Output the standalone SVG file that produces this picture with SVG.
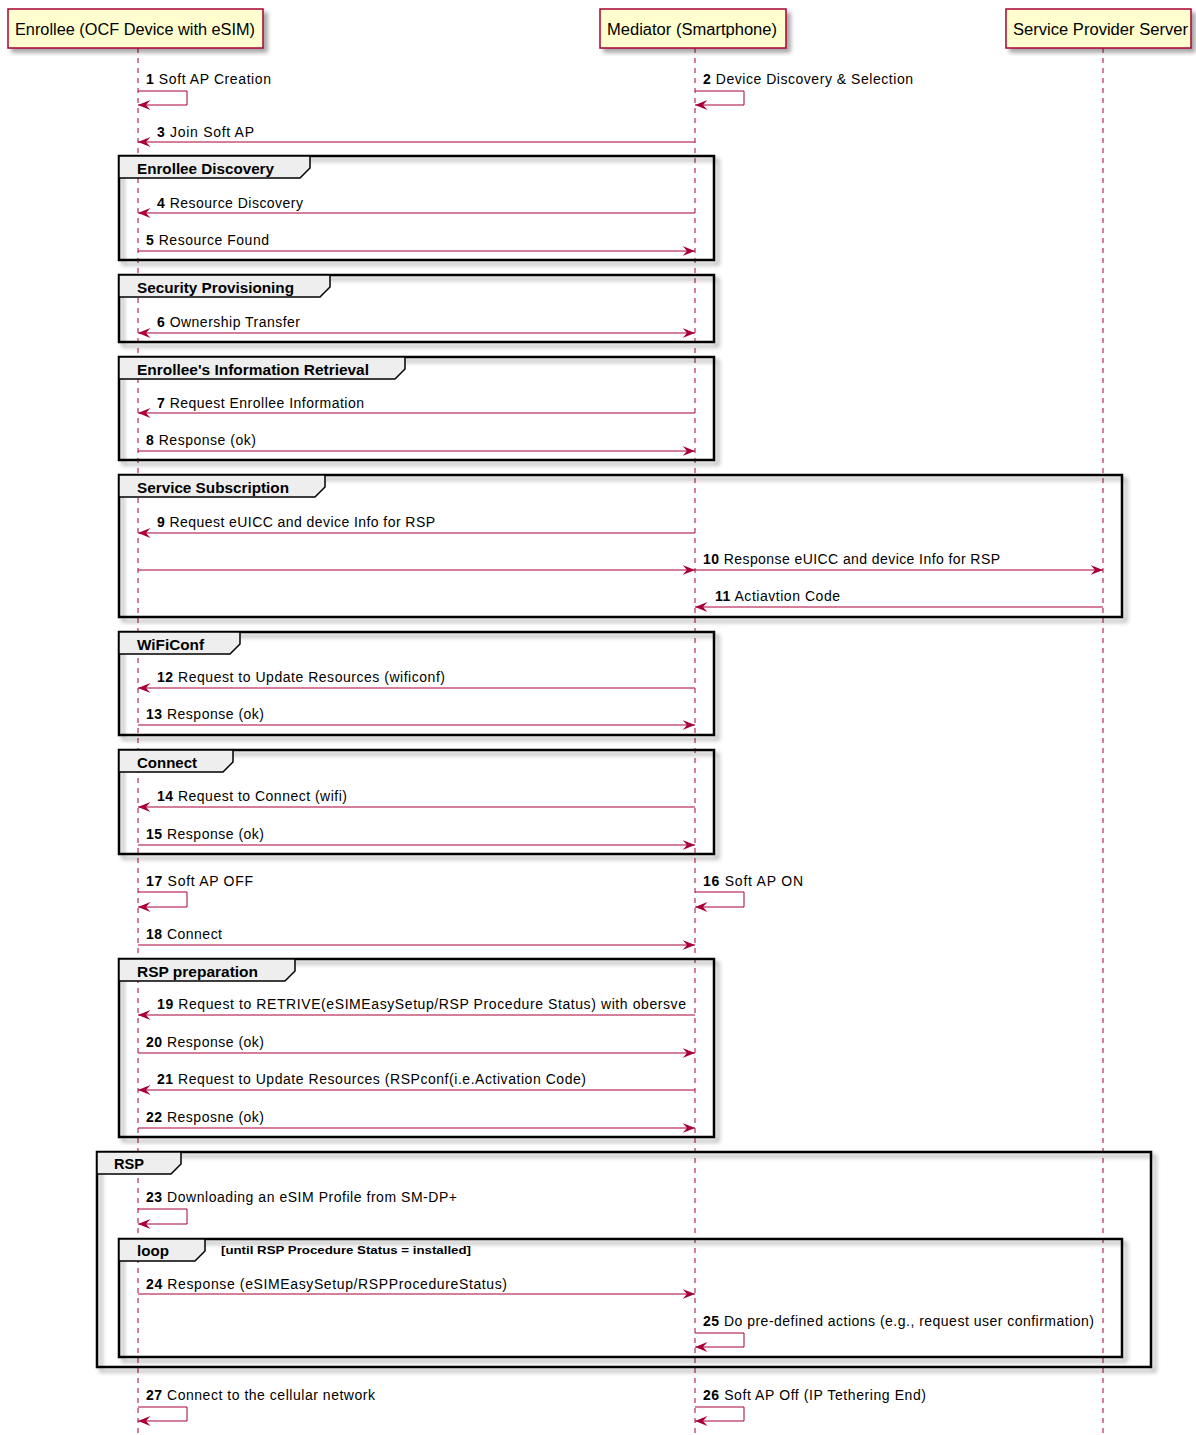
<svg xmlns="http://www.w3.org/2000/svg" width="1196" height="1435" viewBox="0 0 1196 1435">
<style>
.bg{fill:#FFFFFF}
.part{fill:#FEFECE;stroke:#A80036;stroke-width:1.5}
.ptxt{font-family:"Liberation Sans",Arial,sans-serif;font-size:16px;fill:#000}
.life{stroke:#A80036;stroke-width:1;stroke-dasharray:5,5;fill:none}
.msg{stroke:#A80036;stroke-width:1;fill:none}
.mtxt{font-family:"Liberation Sans",Arial,sans-serif;font-size:14px;fill:#000}
.num{font-weight:bold}
.frame{fill:none;stroke:#000;stroke-width:2.5}
.tab{fill:#EEEEEE;stroke:#000;stroke-width:1.5}
.gtxt{font-family:"Liberation Sans",Arial,sans-serif;font-size:14px;font-weight:bold;fill:#000}
.guard{font-family:"Liberation Sans",Arial,sans-serif;font-size:11px;font-weight:bold;fill:#000}
</style>
<defs>
<filter id="sh" x="-5%" y="-5%" width="115%" height="125%">
<feDropShadow dx="4" dy="4" stdDeviation="2" flood-color="#000" flood-opacity="0.35"/>
</filter>
<marker id="ah" viewBox="0 0 13 11" markerUnits="userSpaceOnUse" markerWidth="13" markerHeight="11" refX="12.5" refY="5.5" orient="auto-start-reverse">
<path d="M0,0.5 L12.5,5.5 L0,10.5 L4.5,5.5 Z" fill="#A80036"/>
</marker>
</defs>
<rect class="bg" x="0" y="0" width="1196" height="1435"/>

<g id="lifelines">
<line class="life" x1="138" y1="48" x2="138" y2="1435"/>
<line class="life" x1="695" y1="48" x2="695" y2="1435"/>
<line class="life" x1="1103" y1="48" x2="1103" y2="1435"/>
</g>

<g id="participant-enrollee">
<rect class="part" x="8" y="9" width="255" height="39" filter="url(#sh)"/>
<text class="ptxt" x="15" y="35" textLength="240" lengthAdjust="spacingAndGlyphs">Enrollee (OCF Device with eSIM)</text>
</g>
<g id="participant-mediator">
<rect class="part" x="600" y="9" width="186" height="39" filter="url(#sh)"/>
<text class="ptxt" x="607" y="35" textLength="170" lengthAdjust="spacingAndGlyphs">Mediator (Smartphone)</text>
</g>
<g id="participant-sps">
<rect class="part" x="1006" y="9" width="185" height="39" filter="url(#sh)"/>
<text class="ptxt" x="1013" y="35" textLength="175" lengthAdjust="spacingAndGlyphs">Service Provider Server</text>
</g>

<g id="group-enrollee-discovery">
<rect class="frame" x="119" y="156" width="595" height="104" filter="url(#sh)"/>
<path class="tab" d="M119,156 H310 V168 L300,178 H119 Z"/>
<text class="gtxt" x="137" y="174" textLength="137" lengthAdjust="spacingAndGlyphs">Enrollee Discovery</text>
</g>
<g id="group-security-provisioning">
<rect class="frame" x="119" y="275" width="595" height="67" filter="url(#sh)"/>
<path class="tab" d="M119,275 H330 V287 L320,297 H119 Z"/>
<text class="gtxt" x="137" y="293" textLength="157" lengthAdjust="spacingAndGlyphs">Security Provisioning</text>
</g>
<g id="group-info-retrieval">
<rect class="frame" x="119" y="357" width="595" height="103" filter="url(#sh)"/>
<path class="tab" d="M119,357 H405 V369 L395,379 H119 Z"/>
<text class="gtxt" x="137" y="375" textLength="232" lengthAdjust="spacingAndGlyphs">Enrollee's Information Retrieval</text>
</g>
<g id="group-service-subscription">
<rect class="frame" x="119" y="475" width="1003" height="142" filter="url(#sh)"/>
<path class="tab" d="M119,475 H325 V487 L315,497 H119 Z"/>
<text class="gtxt" x="137" y="493" textLength="152" lengthAdjust="spacingAndGlyphs">Service Subscription</text>
</g>
<g id="group-wificonf">
<rect class="frame" x="119" y="632" width="595" height="103" filter="url(#sh)"/>
<path class="tab" d="M119,632 H240 V644 L230,654 H119 Z"/>
<text class="gtxt" x="137" y="650" textLength="67" lengthAdjust="spacingAndGlyphs">WiFiConf</text>
</g>
<g id="group-connect">
<rect class="frame" x="119" y="750" width="595" height="104" filter="url(#sh)"/>
<path class="tab" d="M119,750 H233 V762 L223,772 H119 Z"/>
<text class="gtxt" x="137" y="768" textLength="60" lengthAdjust="spacingAndGlyphs">Connect</text>
</g>
<g id="group-rsp-preparation">
<rect class="frame" x="119" y="959" width="595" height="178" filter="url(#sh)"/>
<path class="tab" d="M119,959 H295 V971 L285,981 H119 Z"/>
<text class="gtxt" x="137" y="977" textLength="121" lengthAdjust="spacingAndGlyphs">RSP preparation</text>
</g>
<g id="group-rsp">
<rect class="frame" x="97" y="1152" width="1054" height="215" filter="url(#sh)"/>
<path class="tab" d="M97,1152 H181 V1164 L171,1174 H97 Z"/>
<text class="gtxt" x="114" y="1169" textLength="30" lengthAdjust="spacingAndGlyphs">RSP</text>
</g>
<g id="group-loop">
<rect class="frame" x="119" y="1239" width="1003" height="118" filter="url(#sh)"/>
<path class="tab" d="M119,1239 H205 V1251 L195,1261 H119 Z"/>
<text class="gtxt" x="137" y="1256" textLength="32" lengthAdjust="spacingAndGlyphs">loop</text>
<text class="guard" x="221" y="1254" textLength="250" lengthAdjust="spacingAndGlyphs">[until RSP Procedure Status = installed]</text>
</g>

<g id="connectors">
<path class="msg" d="M138,91 H187 V105 H138" marker-end="url(#ah)"/>
<path class="msg" d="M695,91 H744 V105 H695" marker-end="url(#ah)"/>
<line class="msg" x1="695" y1="142" x2="138" y2="142" marker-end="url(#ah)"/>
<line class="msg" x1="695" y1="213" x2="138" y2="213" marker-end="url(#ah)"/>
<line class="msg" x1="138" y1="251" x2="695" y2="251" marker-end="url(#ah)"/>
<line class="msg" x1="138" y1="333" x2="695" y2="333" marker-start="url(#ah)" marker-end="url(#ah)"/>
<line class="msg" x1="695" y1="413" x2="138" y2="413" marker-end="url(#ah)"/>
<line class="msg" x1="138" y1="451" x2="695" y2="451" marker-end="url(#ah)"/>
<line class="msg" x1="695" y1="533" x2="138" y2="533" marker-end="url(#ah)"/>
<line class="msg" x1="138" y1="570" x2="695" y2="570" marker-end="url(#ah)"/>
<line class="msg" x1="695" y1="570" x2="1103" y2="570" marker-end="url(#ah)"/>
<line class="msg" x1="1103" y1="607" x2="695" y2="607" marker-end="url(#ah)"/>
<line class="msg" x1="695" y1="688" x2="138" y2="688" marker-end="url(#ah)"/>
<line class="msg" x1="138" y1="725" x2="695" y2="725" marker-end="url(#ah)"/>
<line class="msg" x1="695" y1="807" x2="138" y2="807" marker-end="url(#ah)"/>
<line class="msg" x1="138" y1="845" x2="695" y2="845" marker-end="url(#ah)"/>
<path class="msg" d="M138,892 H187 V907 H138" marker-end="url(#ah)"/>
<path class="msg" d="M695,892 H744 V907 H695" marker-end="url(#ah)"/>
<line class="msg" x1="138" y1="945" x2="695" y2="945" marker-end="url(#ah)"/>
<line class="msg" x1="695" y1="1015" x2="138" y2="1015" marker-end="url(#ah)"/>
<line class="msg" x1="138" y1="1053" x2="695" y2="1053" marker-end="url(#ah)"/>
<line class="msg" x1="695" y1="1090" x2="138" y2="1090" marker-end="url(#ah)"/>
<line class="msg" x1="138" y1="1128" x2="695" y2="1128" marker-end="url(#ah)"/>
<path class="msg" d="M138,1209 H187 V1224 H138" marker-end="url(#ah)"/>
<line class="msg" x1="138" y1="1294" x2="695" y2="1294" marker-end="url(#ah)"/>
<path class="msg" d="M695,1333 H744 V1347 H695" marker-end="url(#ah)"/>
<path class="msg" d="M138,1407 H187 V1421 H138" marker-end="url(#ah)"/>
<path class="msg" d="M695,1407 H744 V1421 H695" marker-end="url(#ah)"/>
</g>

<g id="labels">
<text class="mtxt" x="146" y="84" textLength="125"><tspan class="num">1</tspan> Soft AP Creation</text>
<text class="mtxt" x="703" y="84" textLength="210"><tspan class="num">2</tspan> Device Discovery &amp; Selection</text>
<text class="mtxt" x="157" y="137" textLength="97"><tspan class="num">3</tspan> Join Soft AP</text>
<text class="mtxt" x="157" y="208" textLength="146"><tspan class="num">4</tspan> Resource Discovery</text>
<text class="mtxt" x="146" y="245" textLength="123"><tspan class="num">5</tspan> Resource Found</text>
<text class="mtxt" x="157" y="327" textLength="143"><tspan class="num">6</tspan> Ownership Transfer</text>
<text class="mtxt" x="157" y="408" textLength="207"><tspan class="num">7</tspan> Request Enrollee Information</text>
<text class="mtxt" x="146" y="445" textLength="110"><tspan class="num">8</tspan> Response (ok)</text>
<text class="mtxt" x="157" y="527" textLength="278"><tspan class="num">9</tspan> Request eUICC and device Info for RSP</text>
<text class="mtxt" x="703" y="564" textLength="297"><tspan class="num">10</tspan> Response eUICC and device Info for RSP</text>
<text class="mtxt" x="715" y="601" textLength="125"><tspan class="num">11</tspan> Actiavtion Code</text>
<text class="mtxt" x="157" y="682" textLength="288"><tspan class="num">12</tspan> Request to Update Resources (wificonf)</text>
<text class="mtxt" x="146" y="719" textLength="118"><tspan class="num">13</tspan> Response (ok)</text>
<text class="mtxt" x="157" y="801" textLength="190"><tspan class="num">14</tspan> Request to Connect (wifi)</text>
<text class="mtxt" x="146" y="839" textLength="118"><tspan class="num">15</tspan> Response (ok)</text>
<text class="mtxt" x="146" y="886" textLength="107"><tspan class="num">17</tspan> Soft AP OFF</text>
<text class="mtxt" x="703" y="886" textLength="100"><tspan class="num">16</tspan> Soft AP ON</text>
<text class="mtxt" x="146" y="939" textLength="76"><tspan class="num">18</tspan> Connect</text>
<text class="mtxt" x="157" y="1009" textLength="529"><tspan class="num">19</tspan> Request to RETRIVE(eSIMEasySetup/RSP Procedure Status) with obersve</text>
<text class="mtxt" x="146" y="1047" textLength="118"><tspan class="num">20</tspan> Response (ok)</text>
<text class="mtxt" x="157" y="1084" textLength="429"><tspan class="num">21</tspan> Request to Update Resources (RSPconf(i.e.Activation Code)</text>
<text class="mtxt" x="146" y="1122" textLength="118"><tspan class="num">22</tspan> Resposne (ok)</text>
<text class="mtxt" x="146" y="1202" textLength="311"><tspan class="num">23</tspan> Downloading an eSIM Profile from SM-DP+</text>
<text class="mtxt" x="146" y="1289" textLength="361"><tspan class="num">24</tspan> Response (eSIMEasySetup/RSPProcedureStatus)</text>
<text class="mtxt" x="703" y="1326" textLength="391"><tspan class="num">25</tspan> Do pre-defined actions (e.g., request user confirmation)</text>
<text class="mtxt" x="146" y="1400" textLength="229"><tspan class="num">27</tspan> Connect to the cellular network</text>
<text class="mtxt" x="703" y="1400" textLength="223"><tspan class="num">26</tspan> Soft AP Off (IP Tethering End)</text>
</g>
</svg>
